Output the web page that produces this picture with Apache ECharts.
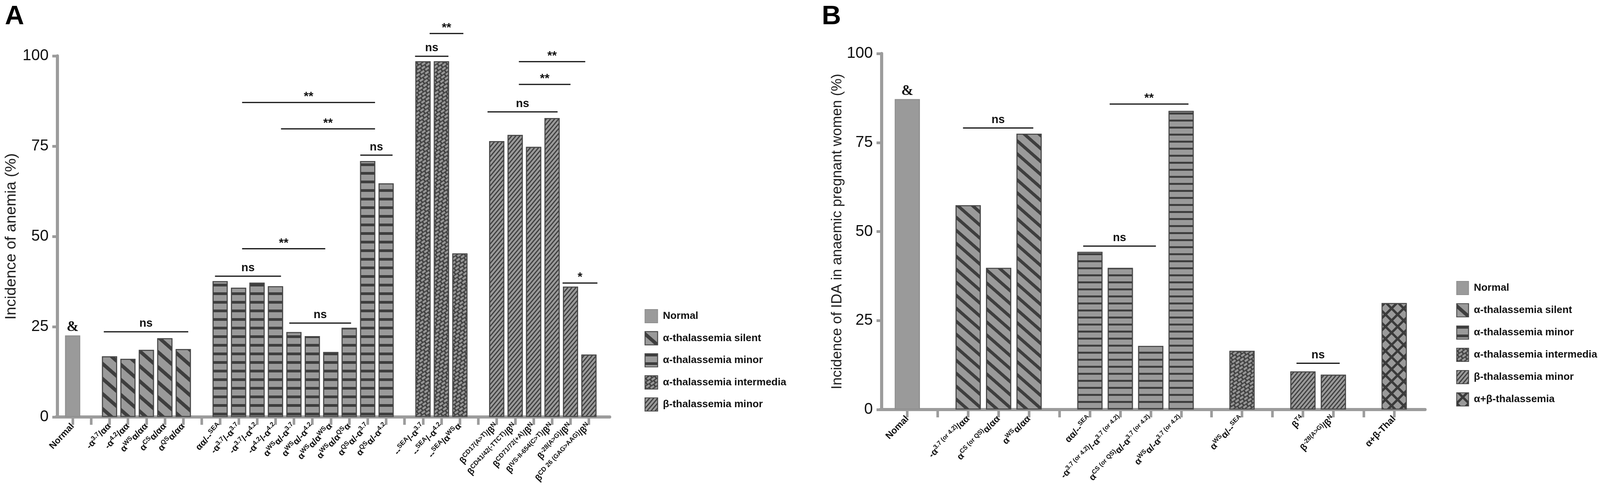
<!doctype html>
<html>
<head>
<meta charset="utf-8">
<script src="https://cdn.jsdelivr.net/npm/echarts@6/dist/echarts.min.js"></script>
<style>
  html, body { margin: 0; padding: 0; background: #fff; overflow: hidden; }
  #main { width: 100vw; height: 100vh; }
</style>
</head>
<body>
<div id="main"></div>
<script>
// ---- panel A: incidence of anemia ----
var catsA = ['Normal', '', '-α{s|3.7}/αα', '-α{s|4.2}/αα', 'α{s|WS}α/αα', 'α{s|CS}α/αα', 'α{s|QS}α/αα', '',
    'αα/--{s|SEA}', '-α{s|3.7}/-α{s|3.7}', '-α{s|3.7}/-α{s|4.2}', '-α{s|4.2}/-α{s|4.2}', 'α{s|WS}α/-α{s|3.7}',
    'α{s|WS}α/-α{s|4.2}', 'α{s|WS}α/α{s|WS}α', 'α{s|WS}α/α{s|QS}α', 'α{s|QS}α/-α{s|3.7}', 'α{s|QS}α/-α{s|4.2}', '',
    '--{s|SEA}/-α{s|3.7}', '--{s|SEA}/-α{s|4.2}', '--{s|SEA}/α{s|WS}α', '',
    'β{s|CD17(A>T)}/β{s|N}', 'β{s|CD41/42(-TTCT)}/β{s|N}', 'β{s|CD71/72(+A)}/β{s|N}',
    'β{s|IVS-II-654(C>T)}/β{s|N}', 'β{s|-28(A>G)}/β{s|N}', 'β{s|CD 26 (GAG>AAG)}/β{s|N}'];
var normalA = [22.6];
var silentA = [16.8, 16.1, 18.6, 21.8, 18.8];
var minorA = [37.6, 35.8, 37.2, 36.2, 23.5, 22.4, 18.0, 24.7, 70.9, 64.7];
var interA = [98.5, 98.5, 45.3];
var betaA = [76.4, 78.1, 74.8, 82.8, 36.1, 17.3];
// first category index of each group
var startA = { normal: 0, silent: 2, minor: 8, inter: 19, beta: 23 };
// significance brackets: [from, to (category units), y value]
var sigA = [[1.69, 6.27, 23.6], [7.72, 11.3, 39.0], [9.19, 13.7, 46.6], [11.75, 15.1, 26.0],
    [9.19, 16.4, 87.1], [11.3, 16.4, 79.8], [15.6, 17.35, 72.5], [18.57, 20.38, 99.9],
    [19.36, 21.19, 106.2], [22.5, 26.3, 84.5], [24.2, 27.0, 92.1], [24.2, 27.8, 98.4], [26.57, 28.46, 37.1]];
var sigTextA = ['ns', 'ns', '**', 'ns', '**', '**', 'ns', 'ns', '**', 'ns', '**', '**', '*'];

// ---- panel B: incidence of IDA ----
var catsB = ['Nomal', '', '-α{s|3.7 (or 4.2)}/αα', 'α{s|CS (or QS)}α/αα', 'α{s|WS}α/αα', '',
    'αα/--{s|SEA}', '-α{s|3.7 (or 4.2)}/-α{s|3.7 (or 4.2)}', 'α{s|CS (or QS)}α/-α{s|3.7 (or 4.2)}',
    'α{s|WS}α/-α{s|3.7 (or 4.2)}', '', 'α{s|WS}α/--{s|SEA}', '', 'β{s|T4}', 'β{s|-28(A>G)}/β{s|N}', '', 'α+β-Thal'];
var normalB = [87.2];
var silentB = [57.4, 39.8, 77.5];
var minorB = [44.3, 39.8, 17.9, 83.9];
var interB = [16.5];
var betaB = [10.7, 9.8];
var abB = [29.9];
var startB = { normal: 0, silent: 2, minor: 6, inter: 11, beta: 13, ab: 16 };
var sigB = [[1.83, 4.14, 79.1], [6.65, 9.24, 85.8], [5.78, 8.17, 45.9], [12.79, 14.21, 13.0]];
var sigTextB = ['ns', '**', 'ns', 'ns'];

var names = ['Normal', 'α-thalassemia silent', 'α-thalassemia minor', 'α-thalassemia intermedia',
    'β-thalassemia minor', 'α+β-thalassemia'];

var GRAY = '#9a9a9a', DARK = '#3e3e3e', AXIS = '#9c9c9c', INK = '#111';

// layout is measured on a 4317 x 1282 figure, scaled to the real viewport
var el = document.getElementById('main');
var sx = el.clientWidth / 4317, sy = el.clientHeight / 1282, fs = (sx + sy) / 2;
function X(v) { return v * sx; }
function Y(v) { return v * sy; }
function F(v) { return Math.round(v * fs * 10) / 10; }

function place(values, start) {
    return values.map(function (v, i) { return [start + i, v]; });
}

function decalSilent(th, gap) { return { symbol: 'rect', color: DARK, dashArrayX: [1, 0], dashArrayY: [F(th), F(gap)], rotation: 0.72 }; }
function decalMinor(th, gap) { return { symbol: 'rect', color: DARK, dashArrayX: [1, 0], dashArrayY: [F(th), F(gap)], rotation: 0 }; }
var decalInter = { symbol: 'rect', color: '#979797', dashArrayX: [[F(10), F(3.5)], [F(4), F(3.5), F(6), 0]],
    dashArrayY: [F(4.5), F(3)], rotation: -0.6 };
var decalBeta = { symbol: 'rect', color: DARK, dashArrayX: [1, 0], dashArrayY: [F(2.2), F(4.6)], rotation: -0.87 };
var decalAB = { symbol: 'rect', color: GRAY, dashArrayX: [F(16), F(6)], dashArrayY: [F(16), F(6)], rotation: Math.PI / 4 };

function barSeries(name, data, axis, width, color, decal, border) {
    var s = {
        name: name, type: 'bar', xAxisIndex: axis, yAxisIndex: axis,
        data: data, barWidth: X(width), barGap: '-100%',
        itemStyle: { color: color, borderColor: border || '#4a4a4a', borderWidth: 2.5 }
    };
    if (decal) s.itemStyle.decal = decal;
    return s;
}

function sigSeries(rows, texts, axis) {
    return {
        type: 'custom', xAxisIndex: axis, yAxisIndex: axis, clip: false, silent: true, z: 10,
        encode: { x: 0, y: 1 },
        data: rows.map(function (r) { return [0, r[2], r[0], r[1]]; }),
        renderItem: function (params, api) {
            var band = api.size([1, 0])[0];
            var base = api.coord([0, api.value(1)]);
            var x1 = base[0] + api.value(2) * band;
            var x2 = base[0] + api.value(3) * band;
            var y = base[1];
            var t = texts[params.dataIndex];
            return {
                type: 'group', children: [
                    { type: 'line', shape: { x1: x1, y1: y, x2: x2, y2: y }, style: { stroke: INK, lineWidth: 3 } },
                    { type: 'text', x: (x1 + x2) / 2, y: t === 'ns' ? y - 6 : y + 2,
                      style: { text: t, fill: INK, font: 'bold ' + F(t === 'ns' ? 30 : 32) + 'px "Liberation Sans"',
                               align: 'center', verticalAlign: 'bottom' } }
                ]
            };
        }
    };
}

var ampLabel = { show: true, position: 'top', distance: 2, formatter: '&', color: INK,
    fontFamily: 'Liberation Serif', fontWeight: 'bold', fontSize: F(38) };

function catAxis(grid, data, size, sup, rot) {
    return {
        gridIndex: grid, type: 'category', data: data,
        axisLine: { show: false },
        axisTick: { show: true, alignWithLabel: true, length: Y(20), lineStyle: { color: AXIS, width: X(7) } },
        axisLabel: {
            interval: 0, rotate: rot, margin: Y(20), color: INK, fontSize: F(size), fontWeight: 'bold',
            lineHeight: F(size + 6),
            rich: { s: { fontSize: F(sup), fontWeight: 'bold', verticalAlign: 'top', lineHeight: F(sup), color: INK } }
        }
    };
}

function valAxis(grid, offset, name, gap, nameSize) {
    return {
        gridIndex: grid, type: 'value', min: 0, max: 100, interval: 25, offset: X(offset),
        axisLine: { show: true, lineStyle: { color: AXIS, width: 8 } },
        axisTick: { show: true, length: X(14), lineStyle: { color: AXIS, width: 7 } },
        axisLabel: { fontSize: F(41), color: INK, margin: X(24) },
        splitLine: { show: false },
        name: name, nameLocation: 'middle', nameGap: X(gap),
        nameTextStyle: { fontSize: nameSize, color: '#1e1e1e' }
    };
}

function lineAxis(grid) {
    return { gridIndex: grid, type: 'value', min: 0, max: 1,
        axisLine: { show: true, onZero: false, lineStyle: { color: AXIS, width: 8 } },
        axisTick: { show: false }, axisLabel: { show: false }, splitLine: { show: false } };
}
function hiddenY(grid) {
    return { gridIndex: grid, type: 'value', min: 0, max: 1, show: false };
}

var legendText = { fontSize: F(27), fontWeight: 'bold', color: INK, padding: [0, 0, 0, X(9)] };

var chart = echarts.init(el, null, { renderer: 'canvas' });
chart.setOption({
    animation: false,
    backgroundColor: '#fff',
    textStyle: { fontFamily: 'Liberation Sans' },
    title: [
        { text: 'A', left: X(8), top: Y(4), textStyle: { fontSize: F(70), fontWeight: 'bold', color: '#000' } },
        { text: 'B', left: X(2212), top: Y(4), textStyle: { fontSize: F(70), fontWeight: 'bold', color: '#000' } }
    ],
    legend: [
        { orient: 'vertical', left: X(1734), top: Y(786), itemWidth: X(34), itemHeight: Y(34), itemGap: Y(20.5),
          icon: 'rect', data: names.slice(0, 5), selectedMode: false, textStyle: legendText },
        { orient: 'vertical', left: X(3924), top: Y(714), itemWidth: X(32), itemHeight: Y(34), itemGap: Y(21),
          icon: 'rect', data: names, selectedMode: false, textStyle: legendText }
    ],
    grid: [
        { left: X(171.1), top: Y(143), width: X(1442.8), height: Y(924) },
        { left: X(2407), top: Y(137), width: X(1395.7), height: Y(911) },
        { left: X(151), top: Y(143), width: X(1494), height: Y(924) },
        { left: X(2375), top: Y(137), width: X(1470), height: Y(911) }
    ],
    xAxis: [catAxis(0, catsA, 24, 17, 47), catAxis(1, catsB, 24.5, 16.5, 46), lineAxis(2), lineAxis(3)],
    yAxis: [valAxis(0, 16, 'Incidence of anemia (%)', 103, 39.5),
        valAxis(1, 28, 'Incidence of IDA in anaemic pregnant women (%)', 100, 36.7),
        hiddenY(2), hiddenY(3)],
    series: [
        Object.assign(barSeries(names[0], place(normalA, startA.normal), 0, 41, GRAY, null, '#8e8e8e'), { label: ampLabel }),
        barSeries(names[1], place(silentA, startA.silent), 0, 41, GRAY, decalSilent(9, 20)),
        barSeries(names[2], place(minorA, startA.minor), 0, 41, GRAY, decalMinor(6.5, 15)),
        barSeries(names[3], place(interA, startA.inter), 0, 41, '#444', decalInter),
        barSeries(names[4], place(betaA, startA.beta), 0, 41, GRAY, decalBeta),
        sigSeries(sigA, sigTextA, 0),

        Object.assign(barSeries(names[0], place(normalB, startB.normal), 1, 68, GRAY, null, '#8e8e8e'), { label: ampLabel }),
        barSeries(names[1], place(silentB, startB.silent), 1, 68, GRAY, decalSilent(8, 17)),
        barSeries(names[2], place(minorB, startB.minor), 1, 68, GRAY, decalMinor(5, 13)),
        barSeries(names[3], place(interB, startB.inter), 1, 68, '#444', decalInter),
        barSeries(names[4], place(betaB, startB.beta), 1, 68, GRAY, decalBeta),
        barSeries(names[5], place(abB, startB.ab), 1, 68, '#3a3a3a', decalAB),
        sigSeries(sigB, sigTextB, 1)
    ]
});
</script>
</body>
</html>
